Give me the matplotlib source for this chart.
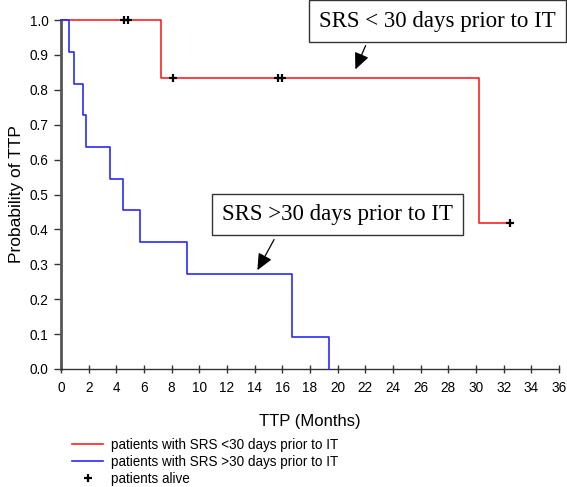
import matplotlib
matplotlib.use("Agg")
import matplotlib.pyplot as plt
from matplotlib.lines import Line2D

# Kaplan-Meier estimates
red_t = [0, 7.23, 30.2, 32.47]
red_s = [1.0, 0.833, 0.417, 0.417]
blue_t = [0, 0.58, 0.91, 1.61, 1.83, 3.54, 4.48, 5.69, 9.11, 16.7, 19.35]
blue_s = [1.0, 0.909, 0.818, 0.727, 0.636, 0.545, 0.455, 0.364, 0.273, 0.091, 0.0]
cens_t = [4.52, 4.81, 8.12, 15.67, 15.95, 32.47]
cens_s = [1.0, 1.0, 0.833, 0.833, 0.833, 0.417]

xticks = list(range(0, 37, 2))
yticks = [i / 10 for i in range(11)]

plt.rcParams['font.family'] = ['Liberation Sans', 'DejaVu Sans']

fig = plt.figure(figsize=(5.67, 4.87), dpi=100)
ax = fig.add_axes([61 / 567, 1 - 369 / 487, (559 - 61) / 567, (369 - 20) / 487])

ax.step(red_t, red_s, where='post', color='#ff2020', lw=1.2, clip_on=False, zorder=3)
ax.step(blue_t, blue_s, where='post', color='#2a2aff', lw=1.2, clip_on=False, zorder=4)
ax.plot(cens_t, cens_s, '+', color='black', ms=6, mew=1.6, clip_on=False, zorder=5)

ax.set_xlim(0, 36)
ax.set_ylim(0, 1.0)
ax.set_xticks(xticks)
ax.set_yticks(yticks)
ax.set_yticklabels(['%.1f' % v for v in yticks])
ax.tick_params(axis='both', labelsize=9.8, color='#333333', width=1)
ax.tick_params(axis='x', direction='inout', length=6, pad=6)
ax.tick_params(axis='y', direction='out', length=5, pad=4)
for s in ['top', 'right']:
    ax.spines[s].set_visible(False)
ax.spines['left'].set_color('#555555')
ax.spines['left'].set_linewidth(2)
ax.spines['bottom'].set_color('#333333')
ax.spines['bottom'].set_linewidth(1)

ax.set_xlabel('TTP (Months)', fontsize=12, labelpad=13)
ax.set_ylabel('Probability of TTP', fontsize=12.5, labelpad=4)

# boxed labels with arrows
box = dict(boxstyle='square,pad=0.45', fc='white', ec='#333333', lw=1)
ax.text(27.2, 0.997, 'SRS < 30 days prior to IT', family='Liberation Serif', fontsize=16.5,
        ha='center', va='center', bbox=box, clip_on=False, zorder=6)
ax.text(20.0, 0.443, 'SRS >30 days prior to IT', family='Liberation Serif', fontsize=16.5,
        ha='center', va='center', bbox=box, zorder=6)
arrow = dict(arrowstyle='-|>,head_length=1.0,head_width=0.45', color='black', lw=0.9)
ax.annotate('', xy=(21.2, 0.851), xytext=(22.1, 0.934), arrowprops=arrow)
ax.annotate('', xy=(14.1, 0.276), xytext=(15.5, 0.378), arrowprops=arrow)

handles = [Line2D([], [], color='#ff2020', lw=1.2),
           Line2D([], [], color='#2a2aff', lw=1.2),
           Line2D([], [], color='black', marker='+', ls='none', ms=6, mew=1.6)]
labels = ['patients with SRS <30 days prior to IT',
          'patients with SRS >30 days prior to IT',
          'patients alive']
fig.legend(handles, labels, loc='upper left', bbox_to_anchor=(60 / 567, 1 - 426 / 487),
           frameon=False, fontsize=9.75, handlelength=2.3, handletextpad=0.6,
           labelspacing=0.22)

fig.savefig('out.png', dpi=100)
